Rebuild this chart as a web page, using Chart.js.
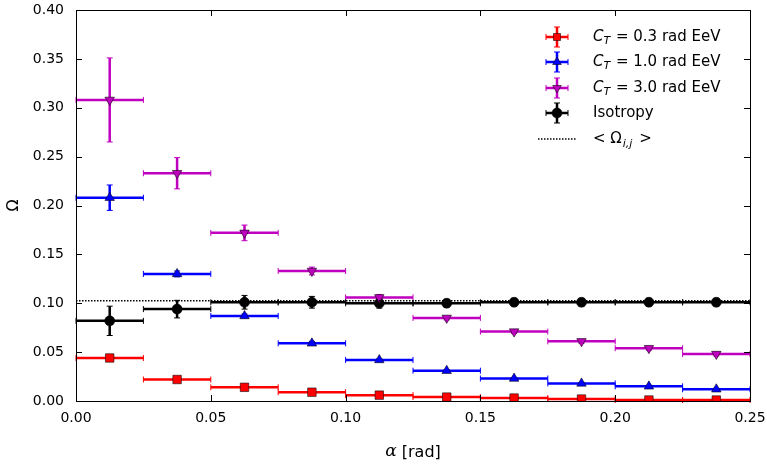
<!DOCTYPE html>
<html>
<head>
<meta charset="utf-8">
<script src="https://cdn.jsdelivr.net/npm/chart.js@4.4.1/dist/chart.umd.min.js"></script>
<style>
  html, body { margin: 0; padding: 0; background: #fff; }
  #wrap { width: 767px; height: 468px; }
</style>
</head>
<body>
<div id="wrap"><canvas id="myChart"></canvas></div>
<script>
// bins in alpha [rad]
const binCenters = [0.0125, 0.0375, 0.0625, 0.0875, 0.1125, 0.1375, 0.1625, 0.1875, 0.2125, 0.2375];
const binHalfWidth = 0.0125;
const xTicks = [0.00, 0.05, 0.10, 0.15, 0.20, 0.25];
const yTicks = [0.00, 0.05, 0.10, 0.15, 0.20, 0.25, 0.30, 0.35, 0.40];

// Omega per bin
const ct03 = [0.044, 0.022, 0.014, 0.009, 0.006, 0.004, 0.003, 0.002, 0.001, 0.001];
const ct03Err = [0.002, 0.001, 0.001, 0.001, 0.001, 0.001, 0.001, 0.001, 0.001, 0.001];
const ct10 = [0.208, 0.130, 0.087, 0.059, 0.042, 0.031, 0.023, 0.018, 0.015, 0.012];
const ct10Err = [0.013, 0.003, 0.002, 0.002, 0.001, 0.001, 0.001, 0.001, 0.001, 0.001];
const ct30 = [0.308, 0.233, 0.172, 0.133, 0.106, 0.085, 0.071, 0.061, 0.054, 0.048];
const ct30Err = [0.043, 0.016, 0.008, 0.004, 0.003, 0.002, 0.002, 0.002, 0.002, 0.002];
const iso = [0.082, 0.094, 0.101, 0.101, 0.100, 0.100, 0.101, 0.101, 0.101, 0.101];
const isoErr = [0.015, 0.009, 0.007, 0.006, 0.005, 0.004, 0.004, 0.004, 0.004, 0.004];
const meanX = [0.0, 0.25];
const meanOmega = [0.1025, 0.1025];

const RED = '#ff0000', BLUE = '#0000ff', MAG = '#bf00bf', BLK = '#000000';

function pts(vals) {
  return vals.map((v, i) => ({ x: binCenters[i], y: v }));
}

function series(vals, errs, color, style, rot, r) {
  return {
    type: 'scatter',
    data: pts(vals),
    errY: errs,
    barColor: color,
    backgroundColor: color,
    borderColor: 'rgba(0,0,0,0.7)',
    borderWidth: 0.8,
    pointStyle: style,
    rotation: rot,
    pointRadius: r,
    pointHoverRadius: r
  };
}

// error bars drawn under the markers, positions from the chart scales
const errorBars = {
  id: 'errorBars',
  beforeDatasetsDraw(chart) {
    const ctx = chart.ctx;
    const xs = chart.scales.x, ys = chart.scales.y;
    chart.data.datasets.forEach((ds) => {
      if (!ds.errY) return;
      ctx.save();
      ctx.strokeStyle = ds.barColor;
      ctx.lineWidth = 2.5;
      ctx.lineCap = 'butt';
      ds.data.forEach((p, i) => {
        const x0 = xs.getPixelForValue(p.x - binHalfWidth);
        const x1 = xs.getPixelForValue(p.x + binHalfWidth);
        const xc = xs.getPixelForValue(p.x);
        const y = ys.getPixelForValue(p.y);
        const yt = ys.getPixelForValue(p.y + ds.errY[i]);
        const yb = ys.getPixelForValue(p.y - ds.errY[i]);
        ctx.beginPath();
        ctx.moveTo(x0, y); ctx.lineTo(x1, y);
        ctx.moveTo(xc, yt); ctx.lineTo(xc, yb);
        ctx.stroke();
        ctx.lineWidth = 1;
        ctx.beginPath();
        ctx.moveTo(x0, y - 3); ctx.lineTo(x0, y + 3);
        ctx.moveTo(x1, y - 3); ctx.lineTo(x1, y + 3);
        ctx.moveTo(xc - 3, yt); ctx.lineTo(xc + 3, yt);
        ctx.moveTo(xc - 3, yb); ctx.lineTo(xc + 3, yb);
        ctx.stroke();
        ctx.lineWidth = 2.5;
      });
      ctx.restore();
    });
  }
};

// frame with inward ticks on all four sides, plus the x title with italic alpha
const frame = {
  id: 'frame',
  afterDraw(chart) {
    const ctx = chart.ctx;
    const a = chart.chartArea;
    const xs = chart.scales.x, ys = chart.scales.y;
    ctx.save();
    ctx.strokeStyle = '#000';
    ctx.lineWidth = 1;
    ctx.strokeRect(a.left + 0.5, a.top + 0.5, a.right - a.left, a.bottom - a.top);
    ctx.beginPath();
    xTicks.forEach(t => {
      const x = Math.round(xs.getPixelForValue(t)) + 0.5;
      ctx.moveTo(x, a.bottom); ctx.lineTo(x, a.bottom - 6);
      ctx.moveTo(x, a.top); ctx.lineTo(x, a.top + 6);
    });
    yTicks.forEach(t => {
      const y = Math.round(ys.getPixelForValue(t)) + 0.5;
      ctx.moveTo(a.left, y); ctx.lineTo(a.left + 6, y);
      ctx.moveTo(a.right, y); ctx.lineTo(a.right - 6, y);
    });
    ctx.stroke();

    ctx.fillStyle = '#000';
    ctx.textBaseline = 'middle';
    ctx.font = 'italic 17px "DejaVu Serif"';
    const wa = ctx.measureText('α').width;
    ctx.font = '16px "DejaVu Sans"';
    const wr = ctx.measureText(' [rad]').width;
    const x0 = (a.left + a.right) / 2 - (wa + wr) / 2;
    ctx.font = 'italic 17px "DejaVu Serif"';
    ctx.fillText('α', x0, 452);
    ctx.font = '16px "DejaVu Sans"';
    ctx.fillText(' [rad]', x0 + wa, 453);
    ctx.restore();
  }
};

function legendMarker(ctx, x, y, color, style, rot) {
  ctx.save();
  ctx.strokeStyle = color;
  ctx.lineWidth = 2.5;
  ctx.beginPath();
  ctx.moveTo(x - 11, y); ctx.lineTo(x + 11, y);
  ctx.moveTo(x, y - 10); ctx.lineTo(x, y + 10);
  ctx.stroke();
  ctx.lineWidth = 1;
  ctx.beginPath();
  ctx.moveTo(x - 11, y - 3); ctx.lineTo(x - 11, y + 3);
  ctx.moveTo(x + 11, y - 3); ctx.lineTo(x + 11, y + 3);
  ctx.moveTo(x - 3, y - 10); ctx.lineTo(x + 3, y - 10);
  ctx.moveTo(x - 3, y + 10); ctx.lineTo(x + 3, y + 10);
  ctx.stroke();
  ctx.fillStyle = color;
  ctx.strokeStyle = 'rgba(0,0,0,0.7)';
  ctx.lineWidth = 0.8;
  Chart.helpers.drawPoint(ctx, { pointStyle: style, rotation: rot, radius: 5, borderWidth: 0.8 }, x, y);
  ctx.restore();
}

function ctLabel(ctx, x, y, val) {
  ctx.font = 'italic 15px "DejaVu Sans"';
  ctx.fillText('C', x, y);
  let w = ctx.measureText('C').width;
  ctx.font = 'italic 11px "DejaVu Sans"';
  ctx.fillText('T', x + w, y + 4);
  w += ctx.measureText('T').width;
  ctx.font = '15px "DejaVu Sans"';
  ctx.fillText(' = ' + val + ' rad EeV', x + w + 1, y);
}

const legendBox = {
  id: 'legendBox',
  afterDraw(chart) {
    const ctx = chart.ctx;
    ctx.save();
    ctx.fillStyle = '#000';
    ctx.textBaseline = 'middle';
    const mx = 557, tx = 593;
    legendMarker(ctx, mx, 37, RED, 'rect', 0);
    ctLabel(ctx, tx, 37, '0.3');
    legendMarker(ctx, mx, 62, BLUE, 'triangle', 0);
    ctLabel(ctx, tx, 62, '1.0');
    legendMarker(ctx, mx, 88, MAG, 'triangle', 180);
    ctLabel(ctx, tx, 88, '3.0');
    legendMarker(ctx, mx, 113, BLK, 'circle', 0);
    ctx.fillStyle = '#000';
    ctx.font = '15px "DejaVu Sans"';
    ctx.fillText('Isotropy', tx, 113);
    ctx.strokeStyle = '#000';
    ctx.lineWidth = 1.5;
    ctx.setLineDash([1.5, 1.5]);
    ctx.beginPath();
    ctx.moveTo(538, 139); ctx.lineTo(576, 139);
    ctx.stroke();
    ctx.setLineDash([]);
    ctx.font = '15px "DejaVu Sans"';
    ctx.fillText('< Ω', tx, 139);
    const w = ctx.measureText('< Ω').width;
    ctx.font = 'italic 11px "DejaVu Sans"';
    ctx.fillText('i,j', tx + w + 1, 144);
    const w2 = ctx.measureText('i,j').width;
    ctx.font = '15px "DejaVu Sans"';
    ctx.fillText(' >', tx + w + w2 + 3, 139);
    ctx.restore();
  }
};

const ctx = document.getElementById('myChart').getContext('2d');

new Chart(ctx, {
  type: 'scatter',
  data: {
    datasets: [
      {
        type: 'line',
        data: meanX.map((x, i) => ({ x: x, y: meanOmega[i] })),
        borderColor: '#000',
        borderWidth: 1.5,
        borderDash: [1.5, 1.5],
        pointRadius: 0,
        fill: false
      },
      series(ct03, ct03Err, RED, 'rect', 0, 6),
      series(ct10, ct10Err, BLUE, 'triangle', 0, 5.5),
      series(ct30, ct30Err, MAG, 'triangle', 180, 5.5),
      series(iso, isoErr, BLK, 'circle', 0, 5)
    ]
  },
  options: {
    responsive: true,
    maintainAspectRatio: false,
    animation: false,
    layout: { padding: { top: 10, right: 17, left: 0, bottom: 0 } },
    plugins: {
      legend: { display: false },
      tooltip: { enabled: false }
    },
    scales: {
      x: {
        type: 'linear',
        min: 0,
        max: 0.25,
        afterBuildTicks: s => { s.ticks = xTicks.map(v => ({ value: v })); },
        afterFit: s => { s.height = 67; s.paddingLeft = 0; s.paddingRight = 0; },
        grid: { display: false, drawTicks: false },
        border: { display: false },
        ticks: {
          color: '#000',
          padding: 9,
          font: { family: 'DejaVu Sans', size: 14 },
          callback: v => v.toFixed(2)
        },
        title: { display: false }
      },
      y: {
        type: 'linear',
        min: 0,
        max: 0.4,
        afterBuildTicks: s => { s.ticks = yTicks.map(v => ({ value: v })); },
        afterFit: s => { s.width = 76; s.paddingTop = 0; s.paddingBottom = 0; },
        grid: { display: false, drawTicks: false },
        border: { display: false },
        ticks: {
          color: '#000',
          padding: 12,
          font: { family: 'DejaVu Sans', size: 14 },
          callback: v => v.toFixed(2)
        },
        title: {
          display: true,
          text: 'Ω',
          color: '#000',
          font: { family: 'DejaVu Sans', size: 16 },
          padding: { bottom: 0 }
        }
      }
    }
  },
  plugins: [errorBars, frame, legendBox]
});
</script>
</body>
</html>
